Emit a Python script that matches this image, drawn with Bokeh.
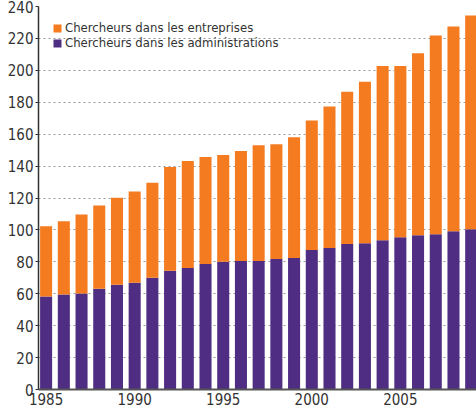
from bokeh.plotting import figure
from bokeh.models import ColumnDataSource, Range1d, FixedTicker, Legend, LegendItem
from bokeh.embed import file_html
from bokeh.resources import INLINE

years = list(range(1985, 2010))
administrations = [58.3, 59.5, 60.1, 63.2, 65.7, 66.9, 70.0, 74.4, 76.2, 78.7, 80.0, 80.6, 80.6,
                   81.8, 82.4, 87.4, 88.6, 91.1, 91.7, 93.6, 95.4, 96.7, 97.3, 99.2, 100.4]
totals = [102.3, 105.4, 109.7, 115.3, 120.2, 124.0, 129.5, 139.4, 143.2, 145.7, 146.9, 149.4, 153.1,
          153.7, 158.0, 168.6, 177.3, 186.6, 192.8, 202.7, 202.7, 210.7, 221.9, 227.5, 234.3]
entreprises = [round(t - a, 1) for t, a in zip(totals, administrations)]
y_ticks = list(range(0, 241, 20))
x_ticks = [1985, 1990, 1995, 2000, 2005]

ORANGE = "#F47B20"
PURPLE = "#4F2D82"
TEXT = "#333333"
FONT = "DejaVu Sans Condensed, Roboto, sans-serif"

src = ColumnDataSource(dict(year=years, administrations=administrations, entreprises=entreprises))

p = figure(width=476, height=407, output_backend="svg", toolbar_location=None,
           x_range=Range1d(1984.57, 2009.3), y_range=Range1d(0, 240),
           min_border_top=6, min_border_right=0, min_border_left=38, min_border_bottom=0)

r = p.vbar_stack(["administrations", "entreprises"], x="year", width=0.68, source=src,
                 color=[PURPLE, ORANGE], line_color=None)

p.outline_line_color = None
p.xgrid.grid_line_color = None
p.ygrid.ticker = FixedTicker(ticks=y_ticks)
p.ygrid.grid_line_color = "#999999"
p.ygrid.grid_line_dash = "2 3"
p.ygrid.grid_line_width = 1

p.yaxis.ticker = FixedTicker(ticks=y_ticks)
p.xaxis.ticker = FixedTicker(ticks=x_ticks)
for ax in (p.xaxis, p.yaxis):
    ax.major_label_text_font = FONT
    ax.major_label_text_font_size = "15px"
    ax.major_label_text_color = TEXT
    ax.minor_tick_line_color = None
    ax.axis_line_color = "#333333"
p.yaxis.axis_line_width = 1.5
p.xaxis.axis_line_width = 2
p.xaxis.axis_line_color = "#555555"
p.yaxis.major_tick_in = 0
p.yaxis.major_tick_out = 3
p.yaxis.major_tick_line_color = "#333333"
p.yaxis.major_label_standoff = 2
p.xaxis.major_tick_in = 0
p.xaxis.major_tick_out = 0
p.xaxis.major_label_standoff = 3

legend = Legend(items=[LegendItem(label="Chercheurs dans les entreprises", renderers=[r[1]]),
                       LegendItem(label="Chercheurs dans les administrations", renderers=[r[0]])],
                location="top_left")
legend.background_fill_alpha = 0
legend.border_line_color = None
legend.margin = 14
legend.padding = 3
legend.glyph_width = 10
legend.glyph_height = 10
legend.label_standoff = 3
legend.spacing = 0
legend.label_height = 14
legend.label_text_font = FONT
legend.label_text_font_size = "13px"
legend.label_text_color = TEXT
p.add_layout(legend)

open("out.html", "w").write(file_html(p, INLINE))
